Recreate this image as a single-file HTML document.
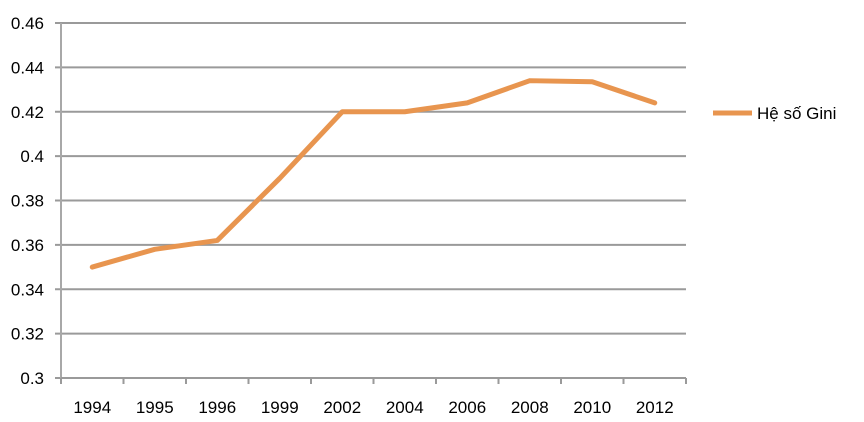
<!DOCTYPE html>
<html><head><meta charset="utf-8"><style>
body{margin:0;background:#fff;}
svg{display:block;font-family:"Liberation Sans",Calibri,sans-serif;}
</style></head><body>
<svg id="chart" width="864" height="422" xmlns="http://www.w3.org/2000/svg"></svg>
<script>
const categories=["1994","1995","1996","1999","2002","2004","2006","2008","2010","2012"];
const giniValues=[0.350,0.358,0.362,0.390,0.420,0.420,0.424,0.434,0.4335,0.424];
const yTicks=[0.3,0.32,0.34,0.36,0.38,0.4,0.42,0.44,0.46];
const yTickLabels=["0.3","0.32","0.34","0.36","0.38","0.4","0.42","0.44","0.46"];
const seriesName="Hệ số Gini";

const svg=document.getElementById('chart');
const NS="http://www.w3.org/2000/svg";
const L=61,R=686,T=23,B=378,yMin=0.3,yMax=0.46;
const band=(R-L)/categories.length;
const x=i=>L+band*(i+0.5);
const y=v=>B-(v-yMin)/(yMax-yMin)*(B-T);
function mk(tag,attrs){const e=document.createElementNS(NS,tag);for(const k in attrs)e.setAttribute(k,attrs[k]);svg.appendChild(e);return e;}

yTicks.forEach((t,i)=>{
  const g=mk('line',{x1:55,x2:R,y1:y(t),y2:y(t),stroke:'#9a9a9a','stroke-width':2});
  
  
  const tx=mk('text',{x:44,y:y(t)+6,'text-anchor':'end','font-size':17,fill:'#000'});
  tx.textContent=yTickLabels[i];
  
  
});
const ya=mk('line',{x1:L,x2:L,y1:T,y2:B,stroke:'#a8a8a8','stroke-width':2});


const xa=mk('line',{x1:L,x2:R,y1:B,y2:B,stroke:'#9a9a9a','stroke-width':2});


for(let i=0;i<=categories.length;i++){
  const tk=mk('line',{x1:L+band*i,x2:L+band*i,y1:B,y2:B+6,stroke:'#9a9a9a','stroke-width':2});
  
  
}
categories.forEach((c,i)=>{
  const tx=mk('text',{x:x(i),y:413,'text-anchor':'middle','font-size':17,fill:'#000'});
  tx.textContent=c;
  
  
});
const pts=giniValues.map((v,i)=>x(i)+','+y(v)).join(' ');
const line=mk('polyline',{points:pts,fill:'none',stroke:'#E8954F','stroke-width':5,'stroke-linejoin':'round','stroke-linecap':'round'});



const ll=mk('line',{x1:713,x2:752,y1:113,y2:113,stroke:'#E8954F','stroke-width':5});


const lt=mk('text',{x:757,y:119,'font-size':17,fill:'#000'});
lt.textContent=seriesName;


</script>
</body></html>
